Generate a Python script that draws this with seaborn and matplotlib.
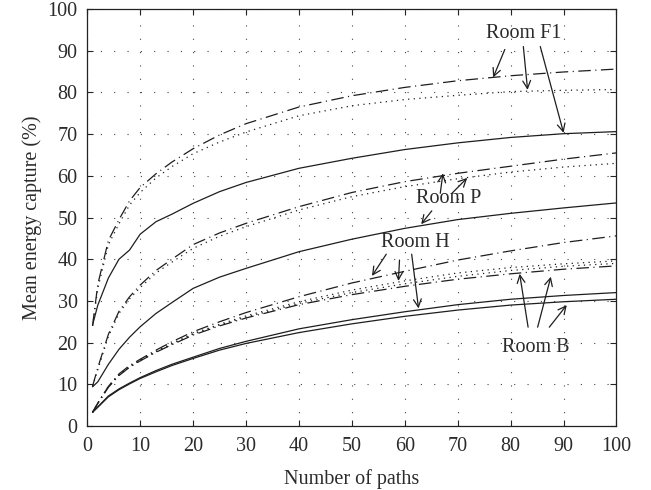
import numpy as np
import pandas as pd
import matplotlib
matplotlib.use('Agg')
import matplotlib.pyplot as plt
import seaborn as sns

# number of paths where the curves were read
paths = [1, 2, 4, 6, 8, 10, 13, 16, 20, 25, 30, 40, 50, 60, 70, 80, 90, 100]

# Room F1
f1_dashdot = [24, 34, 44.5, 49.5, 54, 57.2, 60.5, 63.3, 66.5, 69.8, 72.5, 76.5, 79.2, 81.2, 82.8, 84, 84.9, 85.6]
f1_dotted = [24, 33, 43.5, 48.5, 53, 56, 59.5, 62.2, 65.3, 68.1, 70.5, 74.4, 76.8, 78.3, 79.3, 80.2, 80.5, 80.7]
f1_solid = [24.2, 29, 35.5, 40, 42.2, 46, 49, 50.8, 53.4, 56.2, 58.4, 61.8, 64.2, 66.3, 67.9, 69.2, 70.1, 70.6]
# Room P
p_dashdot = [9.5, 14, 22, 27.5, 31, 33.8, 37.3, 40, 43.5, 46.3, 48.6, 52.6, 56, 58.6, 60.6, 62.3, 64, 65.5]
p_dotted = [9.5, 13.5, 21.5, 27, 30.5, 33.2, 36.7, 39.3, 42.6, 45.5, 47.8, 51.8, 55, 57.4, 59.3, 60.9, 62.1, 63]
p_solid = [9.4, 10.6, 14.8, 18.4, 21.3, 23.8, 27, 29.6, 33, 35.7, 37.8, 41.8, 44.8, 47.4, 49.5, 51, 52.3, 53.5]
# Room H
h_dashdot = [3.3, 5.5, 9.5, 12.5, 14.5, 16, 18.2, 20.2, 22.6, 25, 27.2, 31, 34.3, 37.1, 39.8, 42, 44, 45.6]
h_dotted = [3.3, 5.5, 9.5, 12.3, 14.3, 15.8, 17.9, 19.8, 22.2, 24.4, 26.4, 29.8, 32.6, 34.8, 36.7, 38, 38.9, 39.6]
h_solid = [3.3, 4.6, 7.2, 8.9, 10.3, 11.6, 13.3, 14.8, 16.5, 18.6, 20.3, 23.3, 25.5, 27.4, 29.1, 30.4, 31.3, 32]
# Room B
b_dashdot = [3.3, 5.4, 9.3, 12.1, 14.1, 15.6, 17.7, 19.5, 21.8, 24, 25.9, 29.1, 31.5, 33.5, 35.2, 36.5, 37.6, 38.4]
b_dotted = [3.3, 5.5, 9.4, 12.2, 14.2, 15.7, 17.8, 19.6, 22, 24.2, 26.1, 29.4, 32, 34.1, 35.9, 37.3, 38.3, 39]
b_solid = [3.3, 4.5, 7, 8.7, 10.1, 11.4, 13, 14.5, 16.2, 18.2, 19.8, 22.4, 24.5, 26.3, 27.8, 29, 29.8, 30.4]

series = {
    ('F1', 'dashdot'): f1_dashdot, ('F1', 'dotted'): f1_dotted, ('F1', 'solid'): f1_solid,
    ('P', 'dashdot'): p_dashdot, ('P', 'dotted'): p_dotted, ('P', 'solid'): p_solid,
    ('H', 'dashdot'): h_dashdot, ('H', 'dotted'): h_dotted, ('H', 'solid'): h_solid,
    ('B', 'dashdot'): b_dashdot, ('B', 'dotted'): b_dotted, ('B', 'solid'): b_solid,
}
frames = []
for (room, pat), vals in series.items():
    frames.append(pd.DataFrame({'paths': paths, 'capture': vals,
                                'room': room, 'pattern': pat,
                                'curve': room + '-' + pat}))
d = pd.concat(frames, ignore_index=True)

sns.set_style('ticks')
plt.rcParams['font.family'] = ['Liberation Serif', 'DejaVu Serif']
fs = 14.5
txt = '#2b2b2b'

fig = plt.figure(figsize=(6.51, 4.90), dpi=100)
ax = fig.add_axes([0.134, 0.1306, 0.813, 0.851])

sns.lineplot(data=d, x='paths', y='capture', style='pattern', units='curve',
             estimator=None, color='#1e1e1e', linewidth=0.9,
             dashes={'solid': '', 'dashdot': (10, 3.6, 0.9, 3.6), 'dotted': (1, 3.5)},
             legend=False, ax=ax)

ax.set_xlim(0, 100)
ax.set_ylim(0, 100)
ax.set_xticks(np.arange(0, 101, 10))
ax.set_yticks(np.arange(0, 101, 10))
ax.grid(True, linestyle=(0, (1, 11)), color='#444444', linewidth=0.8)
ax.tick_params(direction='in', length=4, width=0.8, top=True, right=True,
               labelsize=fs, labelcolor=txt)
ax.tick_params(axis='x', pad=8)
ax.tick_params(axis='y', pad=7)
for s in ax.spines.values():
    s.set_linewidth(0.9)
    s.set_color('#222222')
ax.set_xlabel('Number of paths', fontsize=fs, color=txt, labelpad=9)
ax.set_ylabel('Mean energy capture (%)', fontsize=fs, color=txt, labelpad=4)

arrow = dict(arrowstyle='->', color='#1e1e1e', lw=0.9, shrinkA=0, shrinkB=0,
             mutation_scale=14)
# label text, label position, arrow tails and heads
labels = [
    ('Room F1', (82.4, 94.2), [((78.9, 90.3), (76.7, 83.6)), ((82.4, 91), (83.2, 80.6)),
                               ((85.6, 91), (90, 70.3))]),
    ('Room P', (68.2, 54.6), [((66.7, 55.8), (67.2, 60.6)), ((68.9, 55.8), (71.8, 59.5)),
                              ((65.1, 51.6), (63.1, 48.4))]),
    ('Room H', (62, 44), [((56.5, 41.2), (53.8, 36)), ((59, 39.8), (58.8, 34.8)),
                          ((61.3, 41.2), (62.6, 28.2))]),
    ('Room B', (84.8, 18.9), [((83.3, 23.7), (81.7, 36.5)), ((85.1, 23.7), (87.6, 35.8)),
                              ((87.3, 23.7), (90.6, 29))]),
]
for name, pos, arrows in labels:
    ax.text(pos[0], pos[1], name, ha='center', va='center', fontsize=fs, color=txt)
    for tail, head in arrows:
        ax.annotate('', xy=head, xytext=tail, arrowprops=arrow)

fig.savefig('out.png', dpi=100)
